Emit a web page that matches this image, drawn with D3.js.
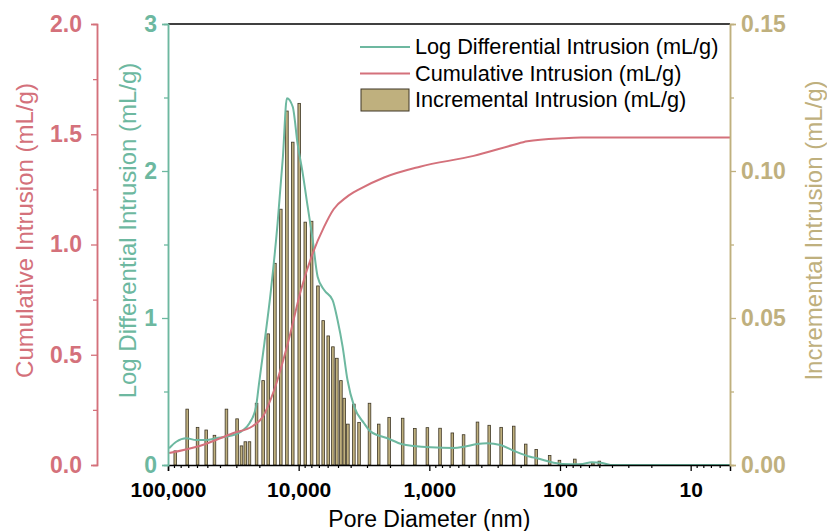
<!DOCTYPE html>
<html>
<head>
<meta charset="utf-8">
<script src="https://cdn.jsdelivr.net/npm/d3@7"></script>
<style>
  body { margin: 0; background: #fff; }
  svg { font-family: "Liberation Sans", Arial, sans-serif; }
  .tick-label text { font-weight: bold; }
</style>
</head>
<body>
<div id="chart"></div>
<script>
// pore diameters (nm) and incremental intrusion (mL/g) of each bar
const incDiameter = [88000, 71300, 59400, 51000, 44100, 35700, 29600, 27400, 25600, 23800,
  21000, 18700, 17100, 15200, 13700, 12300, 11100, 9900, 8900, 7960,
  7120, 6490, 5940, 5470, 5100, 4750, 4480, 4200, 3780, 3450,
  2870, 2440, 2030, 1600, 1290, 1035, 828, 667, 547, 428,
  348, 282, 226, 183, 152, 120, 101, 77, 69, 56, 50];
const incValues = [0.0048, 0.019, 0.0128, 0.0119, 0.0101, 0.019, 0.0157, 0.0065, 0.0079, 0.0079,
  0.021, 0.0287, 0.0446, 0.0686, 0.087, 0.1204, 0.1098, 0.123, 0.0826, 0.0829,
  0.0609, 0.0491, 0.0439, 0.0402, 0.0363, 0.0287, 0.0227, 0.0139, 0.0207, 0.0145,
  0.021, 0.0139, 0.0162, 0.0159, 0.0124, 0.0127, 0.0125, 0.0109, 0.0103, 0.0146,
  0.0135, 0.0128, 0.0132, 0.0071, 0.0053, 0.0032, 0.0016, 0.002, 0.0003, 0.0007, 0.0013];

// cumulative intrusion (mL/g)
const cumDiameter = [98000, 57400, 31900, 22400, 18800, 15400, 12100, 9600, 7810, 6380,
  5400, 4300, 3450, 2220, 1180, 458, 229, 178, 95, 69, 5];
const cumValues = [0.054, 0.086, 0.144, 0.177, 0.219, 0.34, 0.552, 0.794, 0.96, 1.081,
  1.16, 1.215, 1.25, 1.304, 1.353, 1.402, 1.451, 1.468, 1.482, 1.485, 1.485];

// log differential intrusion (mL/g)
const logDiameter = [98000, 86400, 72500, 60800, 51000, 42800, 33900, 27600, 23800, 21200,
  20100, 18300, 16300, 14500, 13200, 12300, 11100, 10200, 9310, 8530,
  7810, 7160, 6380, 5500, 5040, 4610, 4230, 3760, 3160, 2810,
  2090, 1610, 1310, 980, 649, 544, 430, 361, 286, 226,
  169, 150, 112, 83, 70, 57, 49, 41, 5];
const logValues = [0.114, 0.158, 0.182, 0.17, 0.17, 0.182, 0.197, 0.227, 0.284, 0.397,
  0.556, 0.828, 1.19, 1.644, 2.097, 2.495, 2.437, 2.188, 1.984, 1.757,
  1.531, 1.281, 1.19, 1.122, 0.986, 0.805, 0.578, 0.397, 0.284, 0.227,
  0.182, 0.141, 0.129, 0.12, 0.116, 0.124, 0.143, 0.148, 0.136, 0.097,
  0.056, 0.046, 0.016, 0.005, 0.005, 0.018, 0.016, 0, 0];

const xTicks = [100000, 10000, 1000, 100, 10];
const cumTicks = [0, 0.5, 1, 1.5, 2];
const logTicks = [0, 1, 2, 3];
const incTicks = [0, 0.05, 0.1, 0.15];
const legendLabels = ["Log Differential Intrusion (mL/g)", "Cumulative Intrusion (mL/g)", "Incremental Intrusion (mL/g)"];

const RED = "#d4717b", GREEN = "#6db8a0", TAN = "#bfb07e";

class PoreChart {
  constructor(_config) {
    this.config = {
      parentElement: _config.parentElement,
      width: _config.width || 827,
      height: _config.height || 531,
      margin: _config.margin || { top: 24, right: 97, bottom: 66, left: 168 }
    };
    this.initVis();
  }

  initVis() {
    const vis = this;
    const m = vis.config.margin;
    vis.width = vis.config.width - m.left - m.right;
    vis.height = vis.config.height - m.top - m.bottom;

    vis.svg = d3.select(vis.config.parentElement)
      .append("svg")
      .attr("width", vis.config.width)
      .attr("height", vis.config.height);

    vis.chart = vis.svg.append("g")
      .attr("transform", `translate(${m.left},${m.top})`);

    // scales
    vis.xScale = d3.scaleLog().domain([100000, 5]).range([0, vis.width]);
    vis.yCum = d3.scaleLinear().domain([0, 2]).range([vis.height, 0]);
    vis.yLog = d3.scaleLinear().domain([0, 3]).range([vis.height, 0]);
    vis.yInc = d3.scaleLinear().domain([0, 0.15]).range([vis.height, 0]);

    vis.updateVis();
  }

  minorTicks(ticks, step) {
    const out = [];
    for (let i = 0; i < ticks.length - 1; i++) out.push(ticks[i] + step);
    return out;
  }

  styleAxis(g, color) {
    g.select(".domain").attr("stroke", color).attr("stroke-width", 1.5);
    g.selectAll(".tick line").attr("stroke", color).attr("stroke-width", 1.3);
    g.selectAll(".tick text").attr("fill", color);
  }

  updateVis() {
    const vis = this;
    const h = vis.height;

    // bars
    vis.chart.selectAll(".bar")
      .data(incDiameter.map((d, i) => ({ d: d, v: incValues[i] })))
      .join("rect")
      .attr("class", "bar")
      .attr("x", d => vis.xScale(d.d) - 1.3)
      .attr("width", 2.6)
      .attr("y", d => vis.yInc(d.v))
      .attr("height", d => h - vis.yInc(d.v))
      .attr("fill", TAN)
      .attr("stroke", "#3f3726")
      .attr("stroke-width", 0.8);

    // lines
    const logLine = d3.line()
      .x(d => vis.xScale(d[0]))
      .y(d => vis.yLog(d[1]))
      .curve(d3.curveMonotoneX);
    const cumLine = d3.line()
      .x(d => vis.xScale(d[0]))
      .y(d => vis.yCum(d[1]))
      .curve(d3.curveMonotoneX);

    vis.chart.append("path")
      .datum(logDiameter.map((d, i) => [d, logValues[i]]))
      .attr("d", logLine)
      .attr("fill", "none")
      .attr("stroke", GREEN)
      .attr("stroke-width", 2);

    vis.chart.append("path")
      .datum(cumDiameter.map((d, i) => [d, cumValues[i]]))
      .attr("d", cumLine)
      .attr("fill", "none")
      .attr("stroke", RED)
      .attr("stroke-width", 2);

    // top frame
    vis.chart.append("line")
      .attr("x1", 0).attr("x2", vis.width)
      .attr("y1", 0).attr("y2", 0)
      .attr("stroke", "#000").attr("stroke-width", 1.3);

    // x axis, major and minor
    const minorX = [];
    [10000, 1000, 100, 10, 1].forEach(dec => {
      for (let k = 2; k <= 9; k++) {
        const v = dec * k;
        if (v < 100000 && v > 5) minorX.push(v);
      }
    });
    const xMinor = vis.chart.append("g")
      .attr("transform", `translate(0,${h})`)
      .call(d3.axisBottom(vis.xScale).tickValues(minorX).tickSize(3).tickFormat(""));
    xMinor.select(".domain").remove();
    xMinor.selectAll(".tick line").attr("stroke-width", 1.2);

    const xAxisG = vis.chart.append("g")
      .attr("class", "tick-label")
      .attr("transform", `translate(0,${h})`)
      .call(d3.axisBottom(vis.xScale).tickValues(xTicks).tickSize(6).tickPadding(11)
        .tickFormat(d3.format(",")));
    xAxisG.select(".domain").attr("stroke-width", 1.5);
    xAxisG.selectAll(".tick line").attr("stroke-width", 1.3);
    xAxisG.selectAll(".tick text").attr("font-size", 21).attr("fill", "#000");

    vis.chart.append("text")
      .attr("x", vis.xScale(1000))
      .attr("y", h + 62)
      .attr("text-anchor", "middle")
      .attr("font-size", 23)
      .text("Pore Diameter (nm)");

    // cumulative axis (outer left)
    const cumX = -71;
    const cumMinor = vis.chart.append("g")
      .attr("transform", `translate(${cumX},0)`)
      .call(d3.axisLeft(vis.yCum).tickValues(vis.minorTicks(cumTicks, 0.25)).tickSize(4).tickFormat(""));
    vis.styleAxis(cumMinor, RED);
    const cumG = vis.chart.append("g")
      .attr("class", "tick-label")
      .attr("transform", `translate(${cumX},0)`)
      .call(d3.axisLeft(vis.yCum).tickValues(cumTicks).tickSize(6).tickPadding(9)
        .tickFormat(d3.format(".1f")));
    vis.styleAxis(cumG, RED);
    cumG.selectAll(".tick text").attr("font-size", 23);

    vis.chart.append("text")
      .attr("transform", `translate(${cumX - 64},${h / 2 - 14}) rotate(-90)`)
      .attr("text-anchor", "middle")
      .attr("font-size", 24)
      .attr("fill", RED)
      .text("Cumulative Intrusion (mL/g)");

    // log differential axis (inner left)
    const logMinor = vis.chart.append("g")
      .call(d3.axisLeft(vis.yLog).tickValues(vis.minorTicks(logTicks, 0.5)).tickSize(4).tickFormat(""));
    vis.styleAxis(logMinor, GREEN);
    const logG = vis.chart.append("g")
      .attr("class", "tick-label")
      .call(d3.axisLeft(vis.yLog).tickValues(logTicks).tickSize(6).tickPadding(5)
        .tickFormat(d3.format("d")));
    vis.styleAxis(logG, GREEN);
    logG.selectAll(".tick text").attr("font-size", 23);

    vis.chart.append("text")
      .attr("transform", `translate(-32,${h / 2 - 14}) rotate(-90)`)
      .attr("text-anchor", "middle")
      .attr("font-size", 24)
      .attr("fill", GREEN)
      .text("Log Differential Intrusion (mL/g)");

    // incremental axis (right)
    const incMinor = vis.chart.append("g")
      .attr("transform", `translate(${vis.width},0)`)
      .call(d3.axisRight(vis.yInc).tickValues(vis.minorTicks(incTicks, 0.025)).tickSize(4).tickFormat(""));
    vis.styleAxis(incMinor, TAN);
    const incG = vis.chart.append("g")
      .attr("class", "tick-label")
      .attr("transform", `translate(${vis.width},0)`)
      .call(d3.axisRight(vis.yInc).tickValues(incTicks).tickSize(6).tickPadding(5)
        .tickFormat(d3.format(".2f")));
    vis.styleAxis(incG, TAN);
    incG.selectAll(".tick text").attr("font-size", 23);

    vis.chart.append("text")
      .attr("transform", `translate(${vis.width + 92},${h / 2 - 14}) rotate(-90)`)
      .attr("text-anchor", "middle")
      .attr("font-size", 24)
      .attr("fill", TAN)
      .text("Incremental Intrusion (mL/g)");

    // legend
    const legend = vis.chart.append("g")
      .attr("transform", "translate(192,23)");
    const rowH = 26.5;
    [GREEN, RED].forEach((c, i) => {
      legend.append("line")
        .attr("x1", 0).attr("x2", 50)
        .attr("y1", i * rowH).attr("y2", i * rowH)
        .attr("stroke", c).attr("stroke-width", 2);
    });
    legend.append("rect")
      .attr("x", 1).attr("y", 2 * rowH - 11)
      .attr("width", 48).attr("height", 22)
      .attr("fill", TAN).attr("stroke", "#3f3726").attr("stroke-width", 1);
    legend.selectAll(".legend-label")
      .data(legendLabels)
      .join("text")
      .attr("class", "legend-label")
      .attr("x", 55)
      .attr("y", (d, i) => i * rowH + 7)
      .attr("font-size", 21.7)
      .text(d => d);
  }
}

new PoreChart({ parentElement: "#chart" });
</script>
</body>
</html>
